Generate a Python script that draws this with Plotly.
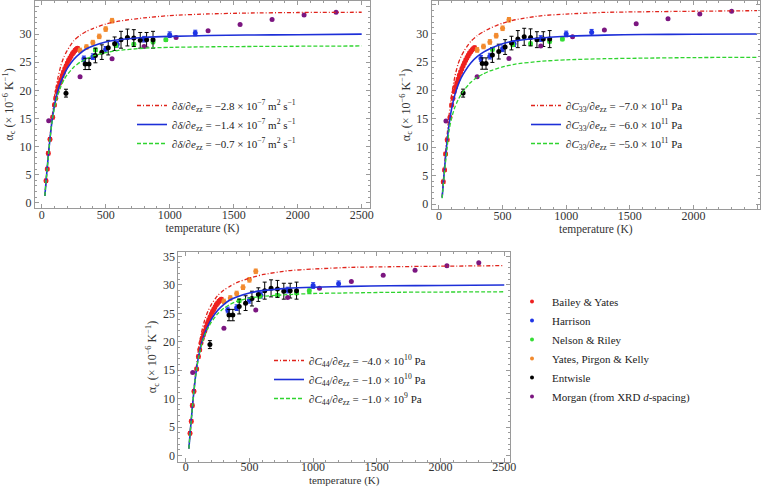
import plotly.graph_objects as go

# ---------------- data ----------------
# model curves
T_curve = [25, 35, 45, 55, 65, 80, 100, 125, 150, 175, 200, 250, 300, 350, 400,
           500, 600, 800, 1000, 1300, 1600, 2000, 2500]

tl_red = [1.2, 4.0, 6.7, 9.3, 11.7, 14.8, 18.8, 22.0, 24.4, 26.0, 27.1, 28.8, 29.8, 30.5, 31.0,
          31.8, 32.3, 32.9, 33.3, 33.6, 33.75, 33.85, 33.9]
tl_blue = [1.2, 4.0, 6.6, 9.1, 11.4, 14.4, 17.3, 19.8, 21.5, 22.8, 23.9, 25.5, 26.6, 27.4, 27.9,
           28.6, 29.0, 29.4, 29.6, 29.75, 29.85, 29.9, 30.0]
tl_green = [1.2, 4.0, 6.5, 9.0, 11.3, 14.2, 16.9, 19.1, 20.7, 21.9, 22.8, 24.1, 25.0, 25.6, 26.1,
            26.7, 27.1, 27.5, 27.65, 27.75, 27.8, 27.85, 27.9]

tr_red = [1.2, 4.2, 7.0, 9.8, 12.3, 15.7, 19.3, 22.4, 24.6, 26.0, 27.0, 28.6, 29.6, 30.3, 30.9,
          31.8, 32.4, 33.1, 33.4, 33.7, 33.8, 33.9, 34.0]
tr_blue = [1.1, 3.9, 6.5, 9.0, 11.2, 14.0, 16.8, 19.2, 20.9, 22.2, 23.2, 24.8, 25.9, 26.7, 27.3,
           28.2, 28.7, 29.2, 29.5, 29.7, 29.8, 29.85, 29.9]
tr_green = [1.0, 3.5, 5.9, 8.0, 10.0, 13.0, 15.2, 17.0, 18.3, 19.3, 20.1, 21.4, 22.3, 22.9, 23.4,
            24.1, 24.6, 25.1, 25.35, 25.55, 25.65, 25.75, 25.8]

b_red = [1.2, 4.0, 6.7, 9.3, 11.7, 14.8, 18.6, 21.7, 23.9, 25.4, 26.5, 28.1, 29.1, 29.8, 30.4,
         31.2, 31.8, 32.5, 32.8, 33.1, 33.2, 33.3, 33.4]
b_blue = [1.2, 4.0, 6.6, 9.1, 11.4, 14.4, 17.3, 19.8, 21.5, 22.8, 23.9, 25.5, 26.6, 27.4, 27.9,
          28.6, 29.0, 29.4, 29.6, 29.75, 29.85, 29.9, 30.0]
b_green = [1.2, 4.0, 6.6, 9.0, 11.4, 14.3, 17.1, 19.5, 21.2, 22.4, 23.4, 24.9, 25.9, 26.6, 27.1,
           27.7, 28.0, 28.3, 28.5, 28.6, 28.7, 28.75, 28.8]

# experimental data
bailey_T = [34, 44, 52, 65, 86, 100, 110, 120, 130, 140, 150, 160, 170, 180, 190, 200, 210,
            220, 230, 240, 250, 260, 270, 280]
bailey_v = [3.9, 6.0, 8.8, 11.3, 15.2, 17.4, 18.6, 19.8, 20.6, 21.3, 21.9, 22.6, 23.2, 23.8,
            24.3, 24.8, 25.3, 25.7, 26.1, 26.5, 26.8, 27.1, 27.3, 27.5]
bailey_e = [0.3] * len(bailey_T)

harrison_T = [330, 400, 500, 590, 800, 1000, 1200]
harrison_v = [25.6, 26.0, 27.3, 28.2, 29.1, 29.9, 30.2]
harrison_e = [0.5, 0.5, 0.5, 0.5, 0.5, 0.5, 0.5]

nelson_T = [420, 580, 720, 870, 970]
nelson_v = [27.2, 28.0, 28.2, 28.6, 29.0]
nelson_e = [0.3, 0.3, 0.3, 0.3, 0.3]

yates_T = [300, 350, 400, 450, 500, 550]
yates_v = [27.1, 27.7, 28.5, 29.6, 30.9, 32.4]
yates_e = [0.4, 0.4, 0.4, 0.4, 0.4, 0.4]

entwisle_T = [190, 340, 370, 420, 470, 520, 570, 620, 670, 720, 770, 820, 870]
entwisle_v = [19.5, 24.7, 24.7, 26.2, 26.8, 27.6, 28.3, 29.0, 29.4, 29.3, 28.9, 29.0, 29.0]
entwisle_e = [0.7, 1.0, 1.0, 1.3, 1.3, 1.3, 1.2, 1.5, 1.5, 1.5, 1.4, 1.3, 1.5]

morgan_T = [55, 300, 550, 800, 1050, 1300, 1550, 1800, 2050, 2300]
morgan_v = [14.6, 22.4, 25.6, 27.8, 29.4, 30.6, 31.7, 32.6, 33.4, 33.9]

tl_labels = ["∂<i>δ</i>/∂<i>e</i><sub>zz</sub> = −2.8 × 10<sup>−7</sup> m<sup>2</sup> s<sup>−1</sup>",
             "∂<i>δ</i>/∂<i>e</i><sub>zz</sub> = −1.4 × 10<sup>−7</sup> m<sup>2</sup> s<sup>−1</sup>",
             "∂<i>δ</i>/∂<i>e</i><sub>zz</sub> = −0.7 × 10<sup>−7</sup> m<sup>2</sup> s<sup>−1</sup>"]
tr_labels = ["∂<i>C</i><sub>33</sub>/∂<i>e</i><sub>zz</sub> = −7.0 × 10<sup>11</sup> Pa",
             "∂<i>C</i><sub>33</sub>/∂<i>e</i><sub>zz</sub> = −6.0 × 10<sup>11</sup> Pa",
             "∂<i>C</i><sub>33</sub>/∂<i>e</i><sub>zz</sub> = −5.0 × 10<sup>11</sup> Pa"]
b_labels = ["∂<i>C</i><sub>44</sub>/∂<i>e</i><sub>zz</sub> = −4.0 × 10<sup>10</sup> Pa",
            "∂<i>C</i><sub>44</sub>/∂<i>e</i><sub>zz</sub> = −1.0 × 10<sup>10</sup> Pa",
            "∂<i>C</i><sub>44</sub>/∂<i>e</i><sub>zz</sub> = −1.0 × 10<sup>9</sup> Pa"]

# ---------------- styling ----------------
FONT = "Liberation Serif"
RED, BLUE, GREEN = "#e0241c", "#1d2fd8", "#2fd42f"

datasets = [
    ("Bailey & Yates", bailey_T, bailey_v, bailey_e, "#ee2020"),
    ("Harrison", harrison_T, harrison_v, harrison_e, "#1f35e6"),
    ("Nelson & Riley", nelson_T, nelson_v, nelson_e, "#35dd35"),
    ("Yates, Pirgon & Kelly", yates_T, yates_v, yates_e, "#f28a2e"),
    ("Entwisle", entwisle_T, entwisle_v, entwisle_e, "#000000"),
    ("Morgan (from XRD <i>d</i>-spacing)", morgan_T, morgan_v, None, "#7b1680"),
]

fig = go.Figure()

panels = [
    ("x", "y", [tl_red, tl_blue, tl_green], tl_labels, "legend2"),
    ("x2", "y2", [tr_red, tr_blue, tr_green], tr_labels, "legend3"),
    ("x3", "y3", [b_red, b_blue, b_green], b_labels, "legend4"),
]
line_styles = [
    dict(color=RED, width=1.3, dash="4px,2px,1px,2px"),
    dict(color=BLUE, width=1.6),
    dict(color=GREEN, width=1.3, dash="4px,2px"),
]

for xa, ya, curves, labels, leg in panels:
    for name, T, v, e, col in datasets:
        err = dict(type="data", array=e, color=col, thickness=1, width=2) if e else None
        fig.add_trace(go.Scatter(
            x=T, y=v, mode="markers", name=name, xaxis=xa, yaxis=ya,
            marker=dict(color=col, size=5), error_y=err, showlegend=False))
    for vals, lab, ls in zip(curves, labels, line_styles):
        fig.add_trace(go.Scatter(
            x=T_curve, y=vals, mode="lines", name=lab, xaxis=xa, yaxis=ya,
            line=dict(shape="spline", smoothing=0.6, **ls), legend=leg))

# legend-only entries for the datasets
for name, T, v, e, col in datasets:
    fig.add_trace(go.Scatter(x=[None], y=[None], mode="markers", name=name,
                             marker=dict(color=col, size=4), showlegend=True, legend="legend"))

axis_common = dict(
    showline=True, linecolor="#9a9a9a", linewidth=1, mirror="ticks",
    ticks="inside", ticklen=4, tickcolor="#9a9a9a", showgrid=False, zeroline=False,
    tickfont=dict(family=FONT, size=12, color="#333333"),
    automargin=False,
)
xcommon = dict(axis_common, tickvals=[0, 500, 1000, 1500, 2000, 2500],
               ticklabelstandoff=-4,
               minor=dict(ticks="inside", ticklen=2, dtick=100, tick0=0, tickcolor="#9a9a9a"),
               title=dict(text="temperature (K)", font=dict(family=FONT, size=11.5, color="#333333"),
                          standoff=1))
ycommon = dict(axis_common, tickvals=[0, 5, 10, 15, 20, 25, 30, 35],
               minor=dict(ticks="inside", ticklen=2, dtick=1, tick0=0, tickcolor="#9a9a9a"),
               title=dict(text="α<sub>c</sub> (× 10<sup>−6</sup> K<sup>−1</sup>)",
                          font=dict(family=FONT, size=12, color="#333333"), standoff=3))

W, H = 768, 488
def dx(a, b):
    return [a / W, b / W]
def dy(top, bot):
    return [1 - bot / H, 1 - top / H]

xbottom = dict(xcommon, ticklabelstandoff=-6,
               title=dict(text="temperature (K)", font=dict(family=FONT, size=11, color="#333333"),
                          standoff=2))

leg_font = dict(family=FONT, size=11, color="#222222")
fig.update_layout(
    width=W, height=H,
    margin=dict(l=0, r=0, t=0, b=0),
    paper_bgcolor="white", plot_bgcolor="white",
    font=dict(family=FONT, size=12, color="#222222"),
    xaxis=dict(xcommon, domain=dx(35, 370), range=[-52, 2565], anchor="y"),
    yaxis=dict(ycommon, domain=dy(1, 208), range=[-0.94, 35.9], anchor="x"),
    xaxis2=dict(xcommon, domain=dx(431.7, 760), range=[-57, 2523], anchor="y2"),
    yaxis2=dict(ycommon, domain=dy(1, 209), range=[-0.88, 35.7], anchor="x2"),
    xaxis3=dict(xbottom, domain=dx(178.3, 510), range=[-58, 2545], anchor="y3"),
    yaxis3=dict(ycommon, domain=dy(252, 462), range=[-1.16, 35.8], anchor="x3"),
    legend=dict(x=512 / W, y=1 - 287 / H, xanchor="left", yanchor="top",
                bgcolor="rgba(0,0,0,0)", font=dict(family=FONT, size=11, color="#222222"),
                itemwidth=30, tracegroupgap=0),
    legend2=dict(x=132 / W, y=1 - 91 / H, xanchor="left", yanchor="top",
                 bgcolor="rgba(0,0,0,0)", font=leg_font),
    legend3=dict(x=526 / W, y=1 - 91 / H, xanchor="left", yanchor="top",
                 bgcolor="rgba(0,0,0,0)", font=leg_font),
    legend4=dict(x=269 / W, y=1 - 346 / H, xanchor="left", yanchor="top",
                 bgcolor="rgba(0,0,0,0)", font=leg_font),
)

# remove the browser's default page margin so the figure sits at the window origin
fig.write_html("out.html", config={"displayModeBar": False},
               post_script="document.body.style.margin='0';")
